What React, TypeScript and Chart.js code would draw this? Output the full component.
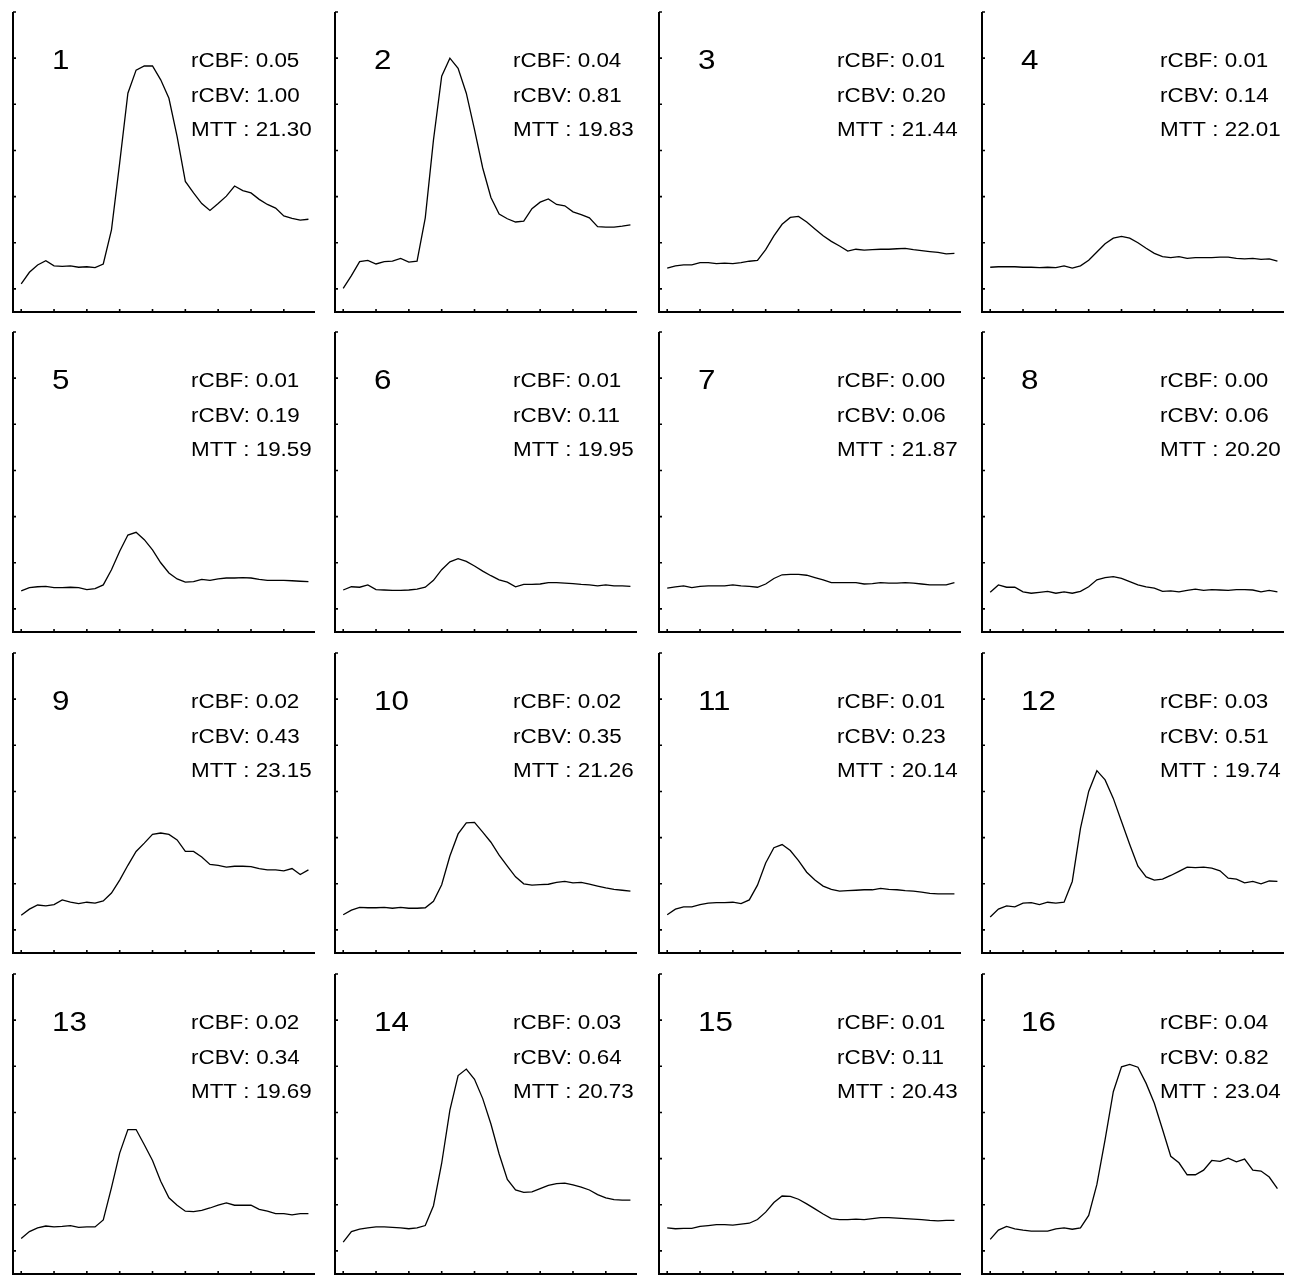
import React, { useEffect, useRef } from "react";
import { Chart, registerables } from "chart.js";

Chart.register(...registerables);

// ---------- data ----------
const timePoints = [
  0, 1, 2, 3, 4, 5, 6, 7, 8, 9, 10, 11, 12, 13, 14, 15, 16, 17,
  18, 19, 20, 21, 22, 23, 24, 25, 26, 27, 28, 29, 30, 31, 32, 33, 34, 35,
];
const xTickValues = [0, 4, 8, 12, 16, 20, 24, 28, 32];
const yTickValues = [0, 1, 2, 3, 4, 5, 6];

const panelNumbers = ["1", "2", "3", "4", "5", "6", "7", "8", "9", "10", "11", "12", "13", "14", "15", "16"];
const rcbfValues = ["0.05", "0.04", "0.01", "0.01", "0.01", "0.01", "0.00", "0.00", "0.02", "0.02", "0.01", "0.03", "0.02", "0.03", "0.01", "0.04"];
const rcbvValues = ["1.00", "0.81", "0.20", "0.14", "0.19", "0.11", "0.06", "0.06", "0.43", "0.35", "0.23", "0.51", "0.34", "0.64", "0.11", "0.82"];
const mttValues = ["21.30", "19.83", "21.44", "22.01", "19.59", "19.95", "21.87", "20.20", "23.15", "21.26", "20.14", "19.74", "19.69", "20.73", "20.43", "23.04"];

const curve01 = [0.11, 0.36, 0.52, 0.61, 0.5, 0.49, 0.5, 0.47, 0.48, 0.46, 0.54, 1.28, 2.73, 4.24, 4.74, 4.83, 4.83, 4.53, 4.13, 3.3, 2.33, 2.08, 1.85, 1.7, 1.85, 2.01, 2.23, 2.13, 2.08, 1.94, 1.83, 1.75, 1.58, 1.53, 1.49, 1.51];
const curve02 = [0.01, 0.29, 0.59, 0.62, 0.54, 0.59, 0.6, 0.66, 0.58, 0.6, 1.54, 3.23, 4.61, 5.0, 4.78, 4.24, 3.45, 2.62, 1.98, 1.62, 1.52, 1.45, 1.47, 1.74, 1.88, 1.95, 1.83, 1.8, 1.67, 1.61, 1.54, 1.35, 1.34, 1.34, 1.36, 1.39];
const curve03 = [0.45, 0.5, 0.52, 0.52, 0.57, 0.57, 0.55, 0.56, 0.55, 0.57, 0.6, 0.62, 0.85, 1.15, 1.4, 1.55, 1.57, 1.45, 1.3, 1.15, 1.03, 0.93, 0.82, 0.86, 0.84, 0.85, 0.86, 0.86, 0.87, 0.88, 0.85, 0.83, 0.81, 0.79, 0.76, 0.77];
const curve04 = [0.47, 0.48, 0.48, 0.48, 0.47, 0.47, 0.46, 0.47, 0.46, 0.5, 0.45, 0.5, 0.62, 0.8, 0.98, 1.1, 1.14, 1.1, 1.0, 0.88, 0.77, 0.7, 0.68, 0.7, 0.66, 0.68, 0.68, 0.68, 0.69, 0.69, 0.66, 0.65, 0.66, 0.64, 0.65, 0.6];
const curve05 = [0.39, 0.46, 0.48, 0.49, 0.46, 0.46, 0.47, 0.46, 0.42, 0.44, 0.52, 0.85, 1.25, 1.6, 1.66, 1.5, 1.28, 1.0, 0.78, 0.65, 0.58, 0.59, 0.64, 0.62, 0.65, 0.67, 0.67, 0.68, 0.67, 0.64, 0.62, 0.62, 0.62, 0.61, 0.6, 0.59];
const curve06 = [0.41, 0.48, 0.47, 0.52, 0.42, 0.41, 0.4, 0.4, 0.41, 0.43, 0.47, 0.62, 0.85, 1.02, 1.09, 1.03, 0.93, 0.82, 0.72, 0.63, 0.58, 0.48, 0.53, 0.53, 0.54, 0.57, 0.57, 0.56, 0.55, 0.53, 0.52, 0.5, 0.52, 0.5, 0.5, 0.49];
const curve07 = [0.45, 0.48, 0.5, 0.46, 0.49, 0.5, 0.5, 0.5, 0.52, 0.5, 0.49, 0.47, 0.54, 0.66, 0.74, 0.75, 0.75, 0.73, 0.68, 0.63, 0.57, 0.57, 0.57, 0.57, 0.54, 0.55, 0.57, 0.56, 0.56, 0.57, 0.56, 0.54, 0.52, 0.52, 0.52, 0.57];
const curve08 = [0.36, 0.52, 0.47, 0.47, 0.37, 0.34, 0.36, 0.38, 0.34, 0.37, 0.34, 0.38, 0.48, 0.63, 0.68, 0.7, 0.66, 0.59, 0.52, 0.48, 0.45, 0.38, 0.39, 0.37, 0.4, 0.43, 0.4, 0.42, 0.41, 0.4, 0.42, 0.42, 0.41, 0.37, 0.4, 0.37];
const curve09 = [0.32, 0.45, 0.54, 0.52, 0.55, 0.65, 0.6, 0.57, 0.6, 0.58, 0.63, 0.8, 1.08, 1.4, 1.7, 1.88, 2.07, 2.1, 2.07, 1.95, 1.7, 1.7, 1.58, 1.42, 1.4, 1.36, 1.38, 1.38, 1.37, 1.33, 1.3, 1.3, 1.28, 1.33, 1.2, 1.3];
const curve10 = [0.33, 0.43, 0.49, 0.48, 0.48, 0.49, 0.47, 0.49, 0.47, 0.47, 0.48, 0.62, 0.98, 1.6, 2.08, 2.32, 2.33, 2.12, 1.9, 1.62, 1.38, 1.15, 1.0, 0.97, 0.98, 0.99, 1.03, 1.05, 1.02, 1.03, 0.99, 0.95, 0.91, 0.88, 0.86, 0.84];
const curve11 = [0.33, 0.45, 0.5, 0.5, 0.55, 0.58, 0.59, 0.59, 0.6, 0.57, 0.65, 0.97, 1.45, 1.78, 1.85, 1.72, 1.5, 1.25, 1.08, 0.95, 0.88, 0.84, 0.85, 0.86, 0.87, 0.87, 0.9, 0.88, 0.87, 0.85, 0.84, 0.82, 0.79, 0.78, 0.78, 0.78];
const curve12 = [0.28, 0.45, 0.52, 0.5, 0.58, 0.59, 0.55, 0.6, 0.58, 0.6, 1.05, 2.2, 3.0, 3.45, 3.25, 2.85, 2.35, 1.85, 1.38, 1.15, 1.08, 1.1, 1.18, 1.27, 1.36, 1.35, 1.36, 1.34, 1.28, 1.12, 1.1, 1.02, 1.05, 1.0, 1.06, 1.05];
const curve13 = [0.27, 0.42, 0.5, 0.54, 0.52, 0.53, 0.55, 0.51, 0.52, 0.52, 0.67, 1.37, 2.12, 2.63, 2.63, 2.3, 1.96, 1.51, 1.15, 0.99, 0.86, 0.85, 0.88, 0.93, 0.99, 1.04, 0.99, 0.99, 0.99, 0.9, 0.86, 0.81, 0.81, 0.78, 0.81, 0.81];
const curve14 = [0.19, 0.42, 0.47, 0.5, 0.52, 0.52, 0.51, 0.5, 0.48, 0.5, 0.55, 0.98, 1.9, 3.05, 3.8, 3.94, 3.72, 3.3, 2.75, 2.1, 1.55, 1.32, 1.27, 1.28, 1.35, 1.42, 1.46, 1.47, 1.43, 1.38, 1.32, 1.22, 1.15, 1.11, 1.1, 1.1];
const curve15 = [0.5, 0.48, 0.49, 0.49, 0.53, 0.55, 0.57, 0.57, 0.56, 0.58, 0.6, 0.68, 0.84, 1.05, 1.19, 1.18, 1.12, 1.02, 0.91, 0.8, 0.7, 0.68, 0.68, 0.69, 0.68, 0.7, 0.72, 0.72, 0.71, 0.7, 0.69, 0.68, 0.66, 0.65, 0.66, 0.66];
const curve16 = [0.25, 0.45, 0.53, 0.48, 0.45, 0.43, 0.43, 0.43, 0.48, 0.5, 0.47, 0.5, 0.77, 1.44, 2.41, 3.45, 3.99, 4.04, 3.98, 3.63, 3.2, 2.63, 2.05, 1.91, 1.65, 1.65, 1.75, 1.96, 1.94, 2.01, 1.93, 1.99, 1.75, 1.73, 1.6, 1.35];

const curves = [
  curve01, curve02, curve03, curve04, curve05, curve06, curve07, curve08,
  curve09, curve10, curve11, curve12, curve13, curve14, curve15, curve16,
];

// ---------- layout ----------
const colAxisX = [13, 335, 659, 982];
const rowAxisTop = [12, 332, 653, 974];
const PLOT_W = 302;
const PLOT_H = 300;
const PAD_L = 3;
const PAD_T = 3;
const PAD_R = 4;
const PAD_B = 3;
const FONT = '"Liberation Sans", Arial, Helvetica, sans-serif';
const STRETCH = 1.12;

function drawStretched(ctx: CanvasRenderingContext2D, text: string, x: number, y: number) {
  ctx.save();
  ctx.translate(x, y);
  ctx.scale(STRETCH, 1);
  ctx.fillText(text, 0, 0);
  ctx.restore();
}

const panelPlugin = {
  id: "panelDecor",
  afterDraw(chart: any, _args: any, opts: any) {
    const ctx: CanvasRenderingContext2D = chart.ctx;
    const area = chart.chartArea;
    const xs = chart.scales.x;
    const ys = chart.scales.y;
    ctx.save();
    ctx.strokeStyle = "#000";
    ctx.lineWidth = 2;
    ctx.beginPath();
    ctx.moveTo(area.left, area.top);
    ctx.lineTo(area.left, area.bottom);
    ctx.lineTo(area.right, area.bottom);
    ctx.stroke();
    ctx.lineWidth = 1.6;
    ctx.beginPath();
    for (const v of yTickValues) {
      const py = ys.getPixelForValue(v);
      ctx.moveTo(area.left, py);
      ctx.lineTo(area.left + 3, py);
    }
    for (const v of xTickValues) {
      const px = xs.getPixelForValue(v);
      ctx.moveTo(px, area.bottom);
      ctx.lineTo(px, area.bottom - 3);
    }
    ctx.stroke();

    ctx.fillStyle = "#000";
    ctx.textBaseline = "alphabetic";
    ctx.textAlign = "left";
    ctx.font = `28px ${FONT}`;
    drawStretched(ctx, opts.num, area.left + 39, area.top + 57);
    ctx.font = `20px ${FONT}`;
    drawStretched(ctx, `rCBF: ${opts.rcbf}`, area.left + 178, area.top + 55);
    drawStretched(ctx, `rCBV: ${opts.rcbv}`, area.left + 178, area.top + 89.5);
    drawStretched(ctx, `MTT : ${opts.mtt}`, area.left + 178, area.top + 124);
    ctx.restore();
  },
};

function Panel({ index }: { index: number }) {
  const ref = useRef<HTMLCanvasElement | null>(null);
  const col = index % 4;
  const row = Math.floor(index / 4);
  const w = PAD_L + PLOT_W + PAD_R;
  const h = PAD_T + PLOT_H + PAD_B;
  useEffect(() => {
    if (!ref.current) return;
    const chart = new Chart(ref.current, {
      type: "line",
      data: {
        datasets: [
          {
            data: timePoints.map((t, i) => ({ x: t, y: curves[index][i] })),
            borderColor: "#000",
            borderWidth: 1.3,
            pointRadius: 0,
            tension: 0,
            fill: false,
          },
        ],
      },
      options: {
        responsive: false,
        animation: false,
        events: [],
        layout: { padding: { left: PAD_L, top: PAD_T, right: PAD_R, bottom: PAD_B } },
        scales: {
          x: { type: "linear", display: false, min: -1, max: 35.8 },
          y: { type: "linear", display: false, min: -0.5, max: 6 },
        },
        plugins: {
          legend: { display: false },
          tooltip: { enabled: false },
          title: { display: false },
          panelDecor: {
            num: panelNumbers[index],
            rcbf: rcbfValues[index],
            rcbv: rcbvValues[index],
            mtt: mttValues[index],
          },
        } as any,
      },
      plugins: [panelPlugin],
    });
    return () => chart.destroy();
  }, [index]);
  return (
    <canvas
      ref={ref}
      width={w}
      height={h}
      style={{
        position: "absolute",
        left: colAxisX[col] - PAD_L,
        top: rowAxisTop[row] - PAD_T,
        width: w,
        height: h,
      }}
    />
  );
}

export default function App() {
  return (
    <div
      style={{
        position: "absolute",
        left: 0,
        top: 0,
        width: 1299,
        height: 1275,
        background: "#fff",
        overflow: "hidden",
      }}
    >
      {panelNumbers.map((_, i) => (
        <Panel key={i} index={i} />
      ))}
    </div>
  );
}
